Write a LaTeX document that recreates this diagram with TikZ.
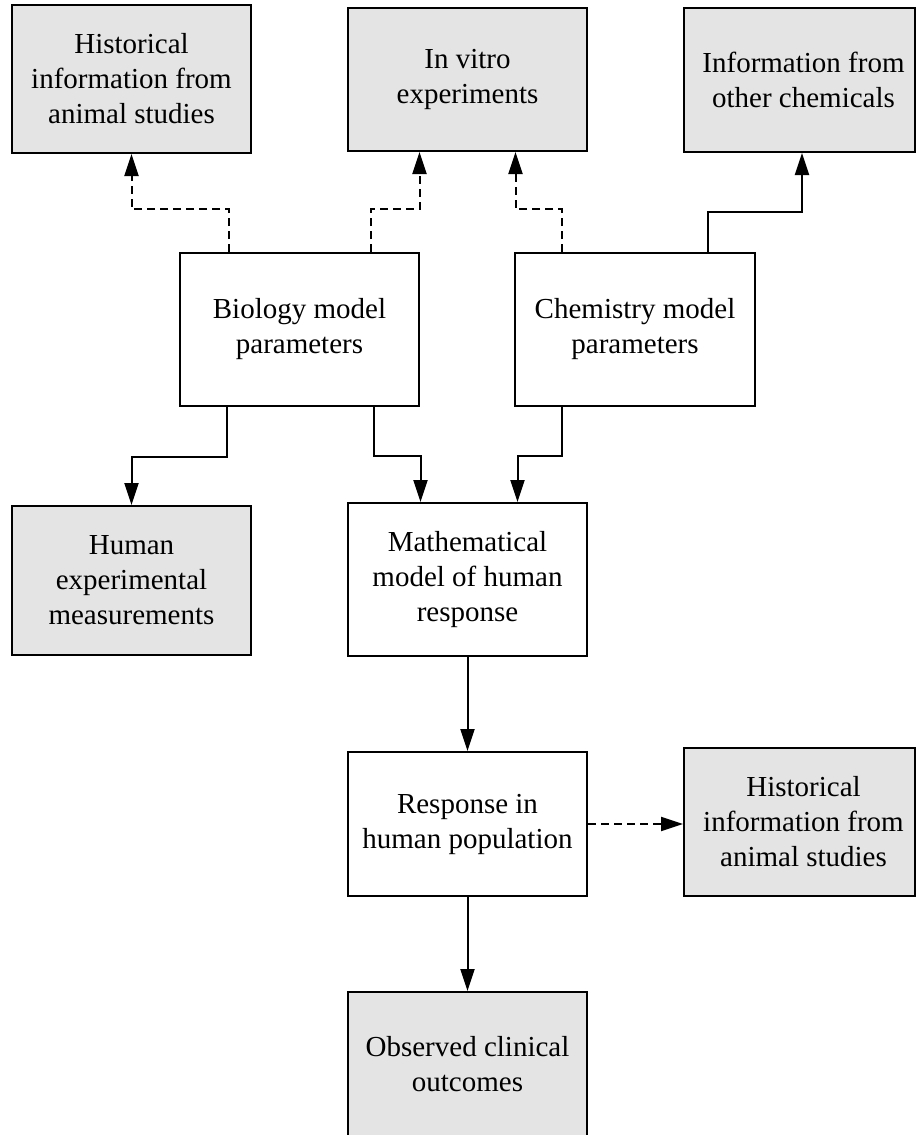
\documentclass[tikz,border=0pt]{standalone}
\usepackage{fontspec}
\setmainfont{Liberation Serif}
\usetikzlibrary{arrows.meta}
\definecolor{boxgray}{HTML}{E4E4E4}
\newcommand{\boxfont}{\fontsize{14.5}{17.5}\selectfont}
\tikzset{
  box/.style={draw, line width=1pt, inner sep=0pt, align=center, font=\boxfont},
  gbox/.style={box, fill=boxgray},
  arr/.style={line width=1pt, -{Triangle[width=7pt,length=11pt]}},
  darr/.style={arr, dash pattern=on 4pt off 2.5pt},
}
\begin{document}
\begin{tikzpicture}[x=0.5pt,y=-0.5pt]
\useasboundingbox (0,0) rectangle (916,1135);
\node[gbox, minimum width=119.5pt, minimum height=74pt] (tl) at (131.5,79) {Historical\\information from\\animal studies};
\node[gbox, minimum width=119.5pt, minimum height=71.5pt] (tm) at (467.5,79.5) {In vitro\\experiments};
\node[gbox, minimum width=115.5pt, minimum height=72pt] (tr) at (799.5,80) {};
\node[font=\boxfont, align=center, inner sep=0pt] (trtext) at ([xshift=2pt]tr.center) {Information from\\other chemicals};
\node[box, fill=white, minimum width=119.5pt, minimum height=76.5pt] (bio) at (299.5,329.5) {Biology model\\parameters};
\node[box, fill=white, minimum width=120pt, minimum height=76.5pt] (chem) at (635,329.5) {Chemistry model\\parameters};
\node[gbox, minimum width=119.5pt, minimum height=74.5pt] (he) at (131.5,580.5) {Human\\experimental\\measurements};
\node[box, fill=white, minimum width=119.5pt, minimum height=76.5pt] (math) at (467.5,579.5) {Mathematical\\model of human\\response};
\node[box, fill=white, minimum width=119.5pt, minimum height=72pt] (resp) at (467.5,824) {Response in\\human population};
\node[gbox, minimum width=115.5pt, minimum height=74pt] (histr) at (799.5,822) {};
\node[font=\boxfont, align=center, inner sep=0pt] (histrtext) at ([xshift=2pt]histr.center) {Historical\\information from\\animal studies};
\node[gbox, minimum width=119.5pt, minimum height=72pt] (obs) at (467.5,1064) {Observed clinical\\outcomes};

\draw[darr] ([xshift=25pt]bio.north west) -- ++(0,-43) -| (tl.south);
\draw[darr] ([xshift=96pt]bio.north west) -- ++(0,-43) -| ([xshift=-24pt]tm.south);
\draw[darr] ([xshift=24pt]chem.north west) -- ++(0,-43) -| ([xshift=24pt]tm.south);
\draw[arr] ([xshift=97pt]chem.north west) -- ++(0,-40) -| ([xshift=59.5pt]tr.south west);
\draw[arr] ([xshift=24pt]bio.south west) -- ++(0,50) -| (he.north);
\draw[arr] ([xshift=97.5pt]bio.south west) -- ++(0,49) -| ([xshift=-23.5pt]math.north);
\draw[arr] ([xshift=24pt]chem.south west) -- ++(0,49) -| ([xshift=25pt]math.north);
\draw[arr] (math.south) -- (resp.north);
\draw[darr] (resp.east) -- (resp.east -| histr.west);
\draw[arr] (resp.south) -- (obs.north);
\end{tikzpicture}
\end{document}
